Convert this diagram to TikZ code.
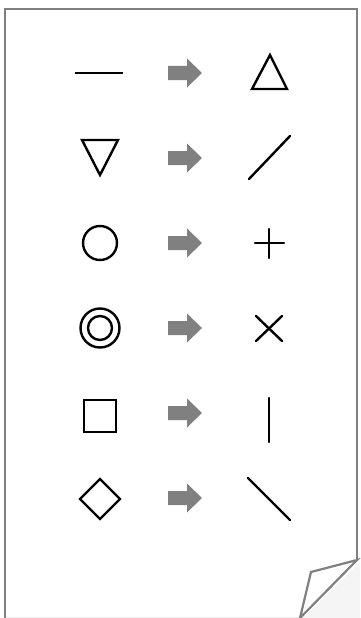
\documentclass[tikz,border=0pt]{standalone}
\begin{document}
\begin{tikzpicture}[x=1pt,y=-1pt,
  sym/.style={draw=black,line width=2.4pt,line cap=round,line join=miter},
  pageline/.style={draw=black!50,line width=2.2pt,line join=miter},
  garrow/.style={fill=black!50,draw=none}]
\useasboundingbox (0,0) rectangle (360,618);
% page
\fill[white] (5,9) -- (357,9) -- (357,560) -- (300,618) -- (5,618) -- cycle;
\fill[black!4] (359,563) -- (360,563) -- (360,618) -- (303,618) -- cycle;
\draw[black!8,line width=1pt] (6,617) -- (300,617);
\draw[pageline] (5,618) -- (5,9) -- (357,9) -- (357,560);
\draw[pageline] (357,560) -- (311,572) -- (300,618) -- cycle;
% arrows
\foreach \y in {73,158,243,328,413,498}{
  \fill[garrow] (168,\y-7) -- (187,\y-7) -- (187,\y-14.5) -- (202,\y) -- (187,\y+14.5) -- (187,\y+7) -- (168,\y+7) -- cycle;
}
% row 1
\draw[sym,line cap=butt] (75,73) -- (123,73);
\draw[sym] (270,55) -- (287,89) -- (252,89) -- cycle;
% row 2
\draw[sym] (82,140) -- (118,140) -- (100,175) -- cycle;
\draw[sym] (249,179) -- (290,136);
% row 3
\draw[sym] (100,243) circle (17);
\draw[sym] (255,243) -- (284,243);
\draw[sym] (269,229) -- (269,258);
% row 4
\draw[sym] (100,328) circle (19.5);
\draw[sym] (100,328) circle (12);
\draw[sym] (256,316) -- (282,341);
\draw[sym] (256,341) -- (282,316);
% row 5
\draw[sym] (84,400) rectangle (116,432);
\draw[sym] (269,398) -- (269,442);
% row 6
\draw[sym] (100,479) -- (120,499) -- (100,519) -- (80,499) -- cycle;
\draw[sym] (248,478) -- (290,520);
\end{tikzpicture}
\end{document}
